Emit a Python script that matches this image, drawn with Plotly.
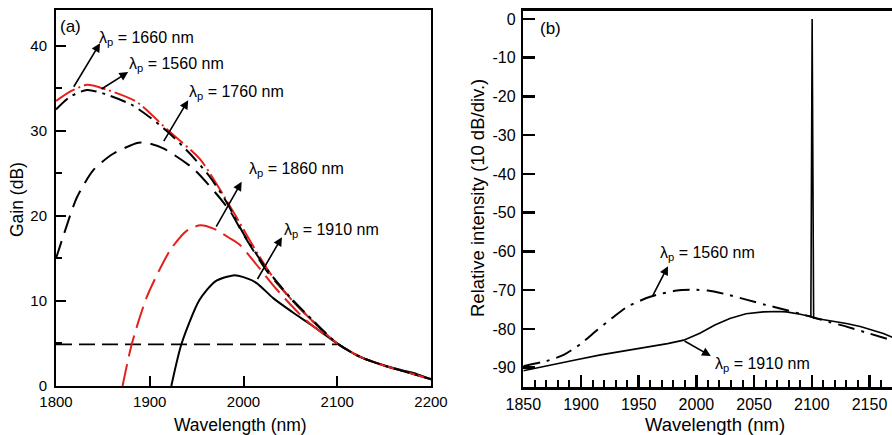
import plotly.graph_objects as go

# ---------------- data: panel (a) gain spectra ----------------
wl_1560 = [1800, 1815, 1833, 1850, 1880, 1900, 1920, 1943, 1964, 1982, 2000, 2025, 2050, 2075, 2100, 2125, 2150, 2175, 2200]
g_1560 = [32.5, 34.0, 34.8, 34.4, 33.1, 31.6, 29.8, 27.3, 24.6, 21.6, 17.9, 13.7, 10.4, 7.6, 5.0, 3.4, 2.4, 1.6, 0.8]

wl_1660 = [1800, 1815, 1833, 1855, 1886, 1920, 1954, 1990, 2010, 2030, 2050, 2075, 2100, 2125, 2150, 2175, 2200]
g_1660 = [33.5, 34.6, 35.4, 34.8, 33.4, 30.0, 26.6, 20.3, 16.5, 13.0, 10.3, 7.5, 5.0, 3.4, 2.4, 1.6, 0.8]

wl_1760 = [1800, 1808, 1822, 1840, 1861, 1888, 1900, 1915, 1946, 1971, 1986, 2000, 2025, 2050, 2075, 2100, 2125, 2150, 2175, 2200]
g_1760 = [15.0, 17.7, 22.1, 25.4, 27.3, 28.6, 28.5, 27.9, 25.6, 22.6, 20.5, 17.8, 13.5, 10.3, 7.5, 5.0, 3.4, 2.4, 1.6, 0.8]

wl_1860 = [1871, 1881, 1897, 1922, 1940, 1954, 1968, 1985, 1996, 2010, 2035, 2067, 2100, 2125, 2150, 2175, 2200]
g_1860 = [0.0, 5.0, 10.5, 16.0, 18.3, 18.9, 18.5, 17.4, 16.6, 14.8, 11.4, 7.7, 5.0, 3.4, 2.4, 1.6, 0.8]

wl_1910 = [1923, 1934, 1953, 1970, 1989, 2000, 2014, 2032, 2052, 2072, 2100, 2121, 2145, 2167, 2185, 2200]
g_1910 = [0.0, 5.0, 10.1, 12.3, 13.0, 12.8, 12.1, 10.3, 8.7, 7.2, 5.0, 3.6, 2.6, 1.9, 1.4, 0.8]

wl_thr = [1800, 2100]
g_thr = [4.9, 4.9]

# ---------------- data: panel (b) output spectra ----------------
wl_b1560 = [1850, 1870, 1885, 1900, 1914, 1927, 1940, 1960, 1983, 2000, 2010, 2025, 2044, 2060, 2075, 2090, 2100, 2115, 2130, 2150, 2170]
i_b1560 = [-89.6, -88.3, -86.7, -83.8, -80.3, -77.2, -74.3, -71.7, -70.1, -69.9, -70.1, -71.0, -72.5, -73.8, -74.9, -76.1, -76.9, -78.2, -79.4, -81.2, -83.0]

wl_b1910 = [1850, 1873, 1895, 1917, 1940, 1960, 1975, 1989, 2003, 2016, 2029, 2043, 2058, 2070, 2078, 2090, 2099.2, 2100.3, 2101.6, 2104, 2115, 2130, 2142, 2153, 2162, 2170]
i_b1910 = [-90.8, -89.3, -88.0, -86.7, -85.6, -84.6, -83.8, -82.9, -81.1, -79.0, -77.3, -76.1, -75.6, -75.5, -75.6, -76.2, -76.8, 0.0, -77.2, -77.3, -77.8, -78.6, -79.4, -80.3, -81.2, -82.2]

x_ticks_a = [1800, 1900, 2000, 2100, 2200]
y_ticks_a = [0, 10, 20, 30, 40]
x_ticks_b = [1850, 1900, 1950, 2000, 2050, 2100, 2150]
y_ticks_b = [0, -10, -20, -30, -40, -50, -60, -70, -80, -90]
y_text_b = ["0", "-10", "-20", "-30", "-40", "-50", "-60", "-70", "-80", "-90"]

RED = "#e3201c"
FONT = "Liberation Sans, Arial, sans-serif"

W, H = 892, 435
def fx(px):
    return px / W
def fy(py):
    return 1 - py / H

fig = go.Figure()

def add(x, y, color, dash, width=2.0, xa="x", ya="y", shape="spline"):
    fig.add_trace(go.Scatter(x=x, y=y, mode="lines", xaxis=xa, yaxis=ya,
                             line=dict(color=color, dash=dash, width=width, shape=shape, smoothing=0.7),
                             showlegend=False, hoverinfo="skip"))

add(wl_thr, g_thr, "black", "16px,7px", 1.8, shape="linear")
add(wl_1910, g_1910, "black", "solid", 2.0)
add(wl_1860, g_1860, RED, "22px,8px", 2.0)
add(wl_1760, g_1760, "black", "18px,9px", 2.0)
add(wl_1660, g_1660, RED, "22px,4px,2px,4px", 2.0)
add(wl_1560, g_1560, "black", "16px,6px,3px,6px", 2.0)

add(wl_b1910, i_b1910, "black", "solid", 1.6, "x2", "y2", shape="linear")
add(wl_b1560, i_b1560, "black", "17px,7px,3px,7px", 2.0, "x2", "y2")

ann = []
def arrow(x0, y0, x1, y1, xr="x", yr="y"):
    ann.append(dict(x=x1, y=y1, ax=x0, ay=y0, xref=xr, yref=yr, axref=xr, ayref=yr,
                    text="", showarrow=True, arrowhead=2, arrowsize=1.1, arrowwidth=1.6,
                    arrowcolor="black", standoff=0, startstandoff=0))

def label(x, y, txt, xr="x", yr="y", size=16):
    ann.append(dict(x=x, y=y, xref=xr, yref=yr, text=txt, showarrow=False,
                    xanchor="left", yanchor="middle", font=dict(family=FONT, size=size, color="black")))

# panel (a) arrows and labels
arrow(1818, 35.0, 1847, 40.3)
arrow(1847, 34.8, 1877, 36.9)
arrow(1914, 28.6, 1941, 33.6)
arrow(1970, 18.55, 1998, 24.0)
arrow(2014, 12.4, 2041, 17.5)
label(1844, 40.8, "λ<sub>p</sub> = 1660 nm")
label(1876, 37.8, "λ<sub>p</sub> = 1560 nm")
label(1940, 34.5, "λ<sub>p</sub> = 1760 nm")
label(2004, 25.4, "λ<sub>p</sub> = 1860 nm")
label(2041, 18.3, "λ<sub>p</sub> = 1910 nm")

# panel (b) arrows and labels
arrow(1961.5, -71.8, 1975.4, -63.8, "x2", "y2")
arrow(1988.4, -82.9, 2012.5, -87.0, "x2", "y2")
label(1966.5, -60.5, "λ<sub>p</sub> = 1560 nm", "x2", "y2")
label(2014, -89.3, "λ<sub>p</sub> = 1910 nm", "x2", "y2")

# panel letters
ann.append(dict(x=1802.5, y=42.3, xref="x", yref="y", text="(a)", showarrow=False,
                xanchor="left", yanchor="middle", font=dict(family=FONT, size=17, color="black")))
ann.append(dict(x=1862.5, y=-2.5, xref="x2", yref="y2", text="(b)", showarrow=False,
                xanchor="left", yanchor="middle", font=dict(family=FONT, size=17, color="black")))

# axis titles
ann.append(dict(x=fx(240), y=fy(424.5), xref="paper", yref="paper", text="Wavelength (nm)",
                showarrow=False, xanchor="center", yanchor="middle", font=dict(family=FONT, size=17.5, color="black")))
ann.append(dict(x=fx(17), y=fy(200), xref="paper", yref="paper", text="Gain (dB)", textangle=-90,
                showarrow=False, xanchor="center", yanchor="middle", font=dict(family=FONT, size=17.5, color="black")))
ann.append(dict(x=fx(715), y=fy(424.5), xref="paper", yref="paper", text="Wavelength (nm)",
                showarrow=False, xanchor="center", yanchor="middle", font=dict(family=FONT, size=18.5, color="black")))
ann.append(dict(x=fx(477), y=fy(198), xref="paper", yref="paper", text="Relative intensity (10 dB/div.)",
                textangle=-90, showarrow=False, xanchor="center", yanchor="middle",
                font=dict(family=FONT, size=18.5, color="black")))

common = dict(showgrid=False, zeroline=False, showline=True, linecolor="black", ticks="inside",
              tickcolor="black", fixedrange=True, automargin=False)

fig.update_layout(
    width=W, height=H, margin=dict(l=0, r=0, t=0, b=0, autoexpand=False),
    paper_bgcolor="white", plot_bgcolor="white",
    font=dict(family=FONT, color="black"),
    annotations=ann,
    xaxis=dict(**common, domain=[fx(56), fx(431)], range=[1800, 2200], anchor="y",
               tickvals=x_ticks_a, ticklen=10, tickwidth=2, linewidth=2, mirror=True,
               tickfont=dict(size=15), ticklabelstandoff=1),
    yaxis=dict(**common, domain=[fy(386), fy(10)], range=[0, 44.2], anchor="x",
               tickvals=y_ticks_a, ticklen=10, tickwidth=2, linewidth=2, mirror=True,
               tickfont=dict(size=15), ticklabelstandoff=4,
               minor=dict(dtick=5, ticks="inside", ticklen=6, tickwidth=2, tickcolor="black")),
    xaxis2=dict(**common, domain=[fx(523.3), 1.0], range=[1850, 2169.5], anchor="y2",
                tickvals=x_ticks_b, ticklen=12, tickwidth=2.5, linewidth=2.5, mirror=True,
                tickfont=dict(size=16), ticklabelstandoff=1, ticklabeloverflow="allow",
                minor=dict(dtick=10, tick0=1850, ticks="inside", ticklen=7, tickwidth=2, tickcolor="black")),
    yaxis2=dict(**common, domain=[fy(387.3), fy(10.7)], range=[-95.07, 2.14], anchor="x2",
                tickvals=y_ticks_b, ticktext=y_text_b, ticklen=12, tickwidth=2.5, linewidth=2.5, mirror=False,
                tickfont=dict(size=16), ticklabelstandoff=2),
)

# remove the default page margin so the figure fills the 892x435 window exactly
fig.write_html("out.html",
               config={"displayModeBar": False, "staticPlot": True},
               post_script=(
                   "document.documentElement.style.margin='0';document.body.style.margin='0';"
                   "document.documentElement.style.overflow='hidden';document.body.style.overflow='hidden';"))
